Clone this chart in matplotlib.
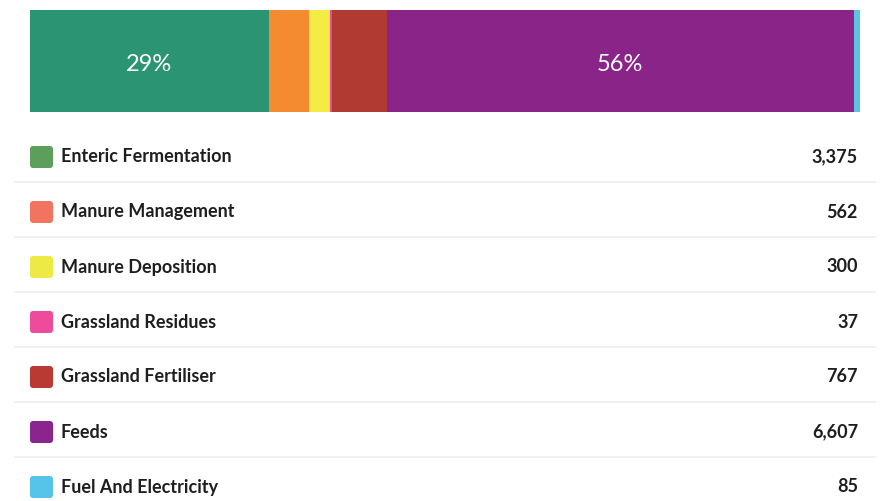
import matplotlib.pyplot as plt
from matplotlib.patches import FancyBboxPatch

# data
labels = ['Enteric Fermentation', 'Manure Management', 'Manure Deposition',
          'Grassland Residues', 'Grassland Fertiliser', 'Feeds',
          'Fuel And Electricity']
values = [3375, 562, 300, 37, 767, 6607, 85]
bar_colors = ['#2b9473', '#f58b31', '#f2ec45', '#ef4b9c', '#b13a33', '#8a2489', '#5bc3e6']
swatch_colors = ['#5b9f5a', '#f17461', '#eeea45', '#ee4b9b', '#b83a32', '#8c2490', '#56c3e8']

total = sum(values)
W, H = 889, 501
fig = plt.figure(figsize=(W / 100, H / 100), dpi=100)
fig.patch.set_facecolor('white')

# stacked bar on top
axb = fig.add_axes([30 / W, 1 - 112 / H, 830 / W, 102 / H])
left = 0
for v, c in zip(values, bar_colors):
    axb.barh(0, v, left=left, height=1, color=c, edgecolor='none')
    pct = v / total * 100
    if pct > 20:
        axb.text(left + v / 2, -0.03, f'{pct:.0f}%', ha='center', va='center',
                 color='white', fontsize=17, family='Lato')
    left += v
axb.set_xlim(0, total)
axb.set_ylim(-0.5, 0.5)
axb.axis('off')

# legend rows
axl = fig.add_axes([0, 0, 1, 1], zorder=-1)
axl.set_xlim(0, W)
axl.set_ylim(H, 0)
axl.axis('off')
row0, step = 157, 55
for i, (lab, v, c) in enumerate(zip(labels, values, swatch_colors)):
    y = row0 + i * step
    axl.add_patch(FancyBboxPatch((30, y - 11), 23, 22,
                                 boxstyle='round,pad=0,rounding_size=3',
                                 fc=c, ec='none'))
    axl.text(61, y, lab, ha='left', va='center', fontsize=13,
             family='Lato', weight='bold', color='#1e1e1e')
    axl.text(858, y, f'{v:,}', ha='right', va='center', fontsize=13,
             family='Lato', weight='bold', color='#1e1e1e')
    if i < len(labels) - 1:
        axl.plot([15, 875], [y + 25, y + 25], color='#efefef', lw=1.2)

fig.savefig('out.png', dpi=100)
